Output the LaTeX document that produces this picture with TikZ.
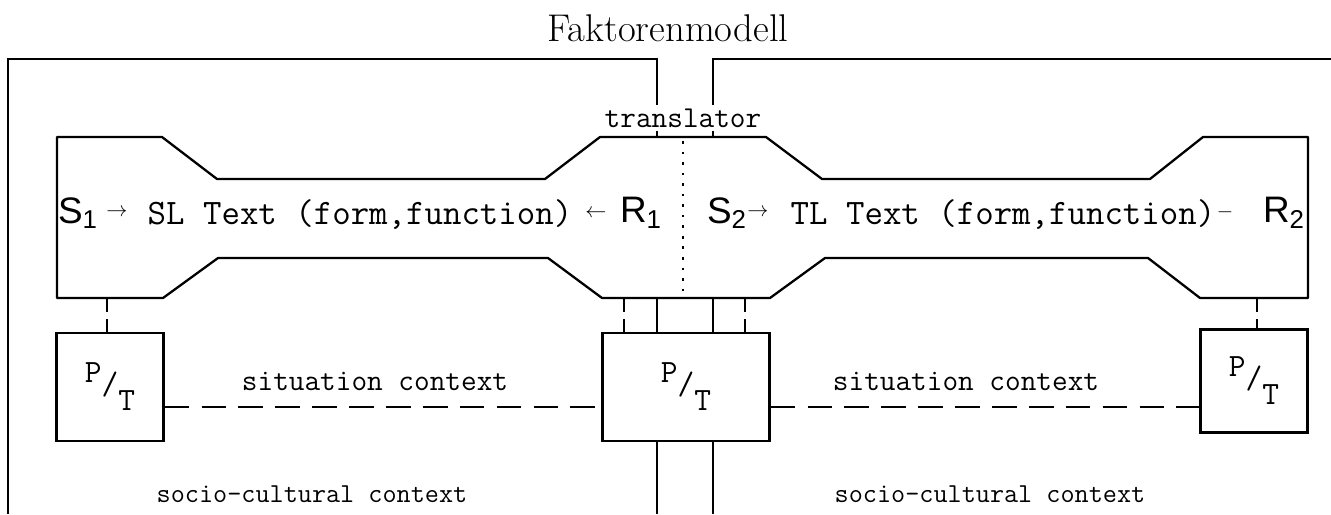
\documentclass[tikz,border=0pt]{standalone}
\usepackage{fontspec}
\setsansfont{Liberation Sans}
\usetikzlibrary{positioning}
\usetikzlibrary{calc}

% P over T as printed in the boxes
\newcommand{\ptfrac}{\raisebox{0.8ex}{P}/\raisebox{-1.2ex}{T}}

\begin{document}
\begin{tikzpicture}[x=0.02cm,y=-0.02cm,
		frameline/.style={line width=1.1pt},
		bottleneck/.style={line width=1.3pt, fill=white, line join=round},
		ptbox/.style={draw, line width=1.3pt, fill=white, minimum width=2.14cm, minimum height=2.16cm, inner sep=0pt, font=\ttfamily\fontsize{18.5}{20}\selectfont},
		linkdash/.style={line width=1pt, dash pattern=on 8pt off 4pt},
		ctxdash/.style={line width=1.4pt, dash pattern=on 14pt off 7pt},
		ttlabel/.style={font=\ttfamily\fontsize{17.3}{20}\selectfont, inner sep=2pt},
		rowtext/.style={font=\ttfamily\fontsize{20.4}{24}\selectfont, inner sep=0pt},
		agent/.style={font=\sffamily\fontsize{21}{24}\selectfont, inner sep=0pt},
		arrowsym/.style={font=\fontsize{13}{15}\selectfont, inner sep=0pt}]

		\useasboundingbox (0,0) rectangle (1331,514);

		\node[font=\fontsize{22}{26}\selectfont] (title) at (668,28) {Faktorenmodell};

		% Draw the two frames
		\draw[frameline] (8,514) -- (8,59) -- (657,59) -- (657,514);
		\draw[frameline] (1331,59) -- (713,59) -- (713,514);

		% Draw the text channel
		\draw[bottleneck] (57,137) -- (162,137) -- (217,179) -- (545,179) -- (600,137)
			-- (766,137) -- (822,179) -- (1150,179) -- (1203,137) -- (1308,137)
			-- (1308,298) -- (1200,298) -- (1148,258) -- (825,258) -- (770,298)
			-- (602,298) -- (548,258) -- (218,258) -- (163,298) -- (57,298) -- cycle;
		\draw[line width=1.3pt, dash pattern=on 1.5pt off 4.5pt] (683,141) -- (683,296);

		\node[ttlabel, fill=white] (trans) at (683,118) {translator};

		% Define the coordinates of the links
		\coordinate (l1) at (107,298);
		\coordinate (m1) at (624,298);
		\coordinate (m2) at (745,298);
		\coordinate (r1) at (1257,298);

		\node[ptbox] (lbox) at (110,387) {\ptfrac};
		\node[ptbox, minimum width=3.34cm] (mbox) at (686,387) {\ptfrac};
		\node[ptbox, minimum height=2.06cm] (rbox) at (1254,381) {\ptfrac};

		\foreach \c/\b in {l1/lbox, m1/mbox, m2/mbox, r1/rbox}
			\draw[linkdash] (\c) -- (\c |- \b.north);

		% Draw the context lines
		\draw[ctxdash] ([yshift=-0.4cm]lbox.east) -- ([yshift=-0.4cm]mbox.west);
		\draw[ctxdash] ([yshift=-0.4cm]mbox.east) -- ([yshift=-0.4cm]mbox.east -| rbox.west);

		% Texts
		\node[agent] (s1) at (78,213) {S\textsubscript{1}};
		\node[arrowsym] (a1) at (117,213) {$\rightarrow$};
		\node[rowtext] (sl) at (360,215) {SL Text (form,function)};
		\node[arrowsym] (a2) at (596,214) {$\leftarrow$};
		\node[agent] (r1txt) at (641,213) {R\textsubscript{1}};
		\node[agent] (s2) at (727,213) {S\textsubscript{2}};
		\node[arrowsym] (a3) at (758,213) {$\rightarrow$};
		\node[rowtext] (tl) at (1003,215) {TL Text (form,function)};
		\node[arrowsym] (a4) at (1225,212) {$-$};
		\node[agent] (r2txt) at (1284,213) {R\textsubscript{2}};

		\node[ttlabel] (sit1) at (375,381) {situation context};
		\node[ttlabel] (sit2) at (966,381) {situation context};
		\node[ttlabel, font=\ttfamily\fontsize{15.6}{18}\selectfont] (soc1) at (312,494) {socio-cultural context};
		\node[ttlabel, font=\ttfamily\fontsize{15.6}{18}\selectfont] (soc2) at (990,494) {socio-cultural context};
	\end{tikzpicture}
\end{document}
